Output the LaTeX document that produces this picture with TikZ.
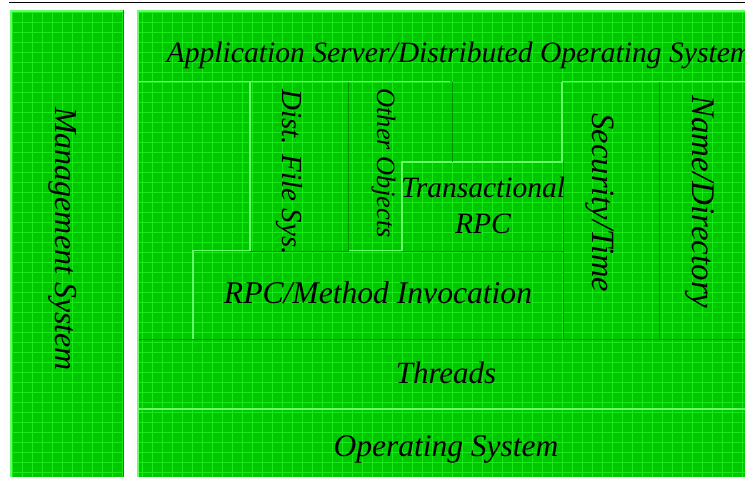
\documentclass[tikz,border=0pt]{standalone}
\usepackage{fontspec}
\setmainfont{Liberation Serif}
\definecolor{bg}{HTML}{00C800}
\definecolor{gridc}{HTML}{1AEA1A}
\definecolor{lite}{HTML}{66FF66}
\definecolor{dark}{HTML}{009400}
\tikzset{
  lbl/.style={font=\fontsize{31}{34}\selectfont\itshape, inner sep=0pt, anchor=base},
  vlbl/.style={lbl, rotate=-90},
  liteline/.style={lite, line width=1.6pt},
  darkline/.style={dark, line width=1pt},
}
\begin{document}
\begin{tikzpicture}[x=1pt,y=-1pt]
\useasboundingbox (0,0) rectangle (745,477);
\clip (0,0) rectangle (745,477);
\fill[white] (0,0) rectangle (745,477);
% panels
\fill[bg] (10,10) rectangle (124,480);
\fill[bg] (137,10) rectangle (750,480);
% texture grid
\begin{scope}
  \clip (10,10) rectangle (124,480) (137,10) rectangle (750,480);
  \foreach \i in {0,10,...,750} {
    \draw[gridc, line width=0.9pt] (\i+2,0) -- (\i+2,480);
  }
  \foreach \j in {0,10,...,480} {
    \draw[gridc, line width=0.9pt] (0,\j+2) -- (750,\j+2);
  }
\end{scope}
% top rule
\draw[black, line width=1.5pt] (9,2.5) -- (745,2.5);
% panel bevels
\draw[liteline] (10.8,480) -- (10.8,10.8) -- (124,10.8);
\draw[darkline] (123.5,10) -- (123.5,480);
\draw[liteline] (137.8,480) -- (137.8,10.8) -- (750,10.8);
% light outlines
\draw[liteline] (138,81.5) -- (450,81.5);
\draw[liteline] (562,81.5) -- (750,81.5);
\draw[liteline] (250,81.5) -- (250,250.5) -- (193,250.5) -- (193,339);
\draw[liteline] (348,250.5) -- (402,250.5) -- (402,162) -- (562,162) -- (562,81.5);
\draw[liteline] (138,409) -- (750,409);
% dark outlines
\draw[darkline] (348,82) -- (348,251.5);
\draw[darkline] (250,251.5) -- (348,251.5);
\draw[darkline] (452,82) -- (452,162);
\draw[darkline] (402,251.5) -- (563,251.5);
\draw[darkline] (563,162) -- (563,339);
\draw[darkline] (659,82) -- (659,339);
\draw[darkline] (139,339) -- (750,339);
% labels
\node[lbl, font=\fontsize{29.6}{33}\selectfont\itshape] (app) at (459,62) {Application Server/Distributed Operating System};
\node[vlbl, font=\fontsize{32}{35}\selectfont\itshape] (mgmt) at (55,239) {Management System};
\node[vlbl, font=\fontsize{29}{32}\selectfont\itshape] (dfs) at (282,172) {Dist. File Sys.};
\node[vlbl, font=\fontsize{26.5}{29}\selectfont\itshape] (other) at (377,163) {Other Objects};
\node[lbl, font=\fontsize{29.5}{32}\selectfont\itshape] (trans) at (483,197) {Transactional};
\node[lbl, font=\fontsize{29.5}{32}\selectfont\itshape] (trpc) at (483,233) {RPC};
\node[lbl, font=\fontsize{31.6}{35}\selectfont\itshape] (rpc) at (378,303) {RPC/Method Invocation};
\node[vlbl, font=\fontsize{32.5}{35}\selectfont\itshape] (sec) at (592,203) {Security/Time};
\node[vlbl, font=\fontsize{33}{36}\selectfont\itshape] (name) at (692,202) {Name/Directory};
\node[lbl] (threads) at (446,383) {Threads};
\node[lbl, font=\fontsize{31.5}{35}\selectfont\itshape] (os) at (446,456) {Operating System};
\end{tikzpicture}
\end{document}
